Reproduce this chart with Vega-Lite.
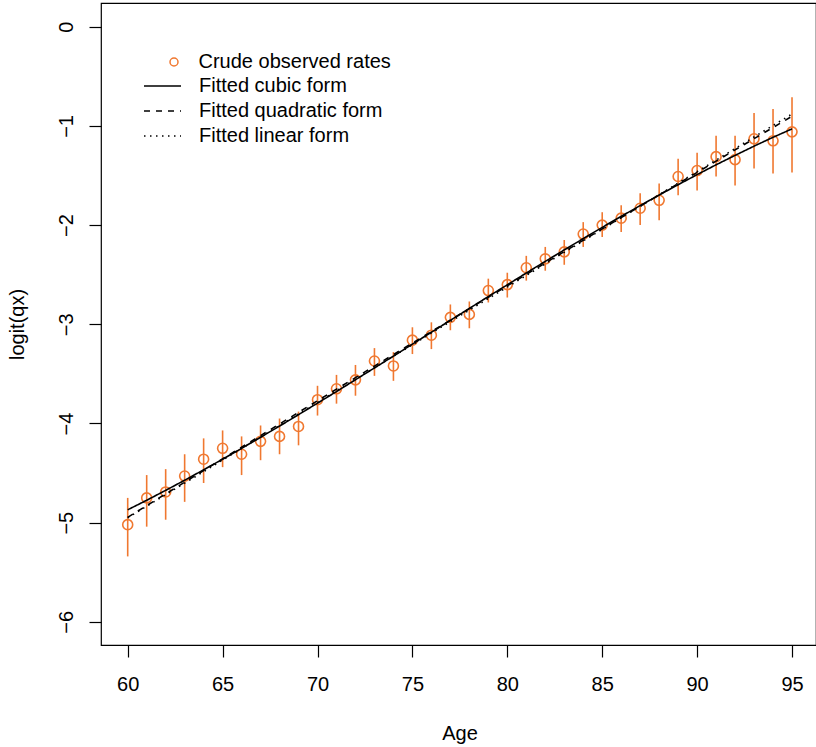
{
  "$schema": "https://vega.github.io/schema/vega-lite/v6.json",
  "width": 715,
  "height": 642,
  "autosize": "none",
  "padding": {"left": 101, "top": 3, "right": 0, "bottom": 102},
  "background": "white",
  "config": {
    "view": {"stroke": "black", "strokeWidth": 1.2},
    "font": "Liberation Sans",
    "axis": {
      "grid": false, "domain": false, "tickColor": "black", "tickSize": 12, "tickWidth": 1.2,
      "labelFont": "Liberation Sans", "labelFontSize": 20, "labelColor": "black",
      "titleFont": "Liberation Sans", "titleFontSize": 20, "titleColor": "black", "titleFontWeight": "normal"
    },
    "legend": {
      "clipHeight": 20, "rowPadding": 5, "labelLimit": 0,
      "labelFont": "Liberation Sans", "labelFontSize": 20, "labelColor": "black",
      "symbolStrokeWidth": 1.5
    }
  },
  "datasets": {
    "obs": [
      {"age": 60, "series": "Crude observed rates", "obs": -5.02, "lo": -5.34, "hi": -4.75},
      {"age": 61, "series": "Crude observed rates", "obs": -4.75, "lo": -5.04, "hi": -4.52},
      {"age": 62, "series": "Crude observed rates", "obs": -4.69, "lo": -4.97, "hi": -4.46},
      {"age": 63, "series": "Crude observed rates", "obs": -4.53, "lo": -4.79, "hi": -4.31},
      {"age": 64, "series": "Crude observed rates", "obs": -4.36, "lo": -4.60, "hi": -4.15},
      {"age": 65, "series": "Crude observed rates", "obs": -4.25, "lo": -4.44, "hi": -4.07},
      {"age": 66, "series": "Crude observed rates", "obs": -4.31, "lo": -4.52, "hi": -4.13},
      {"age": 67, "series": "Crude observed rates", "obs": -4.18, "lo": -4.37, "hi": -4.02},
      {"age": 68, "series": "Crude observed rates", "obs": -4.13, "lo": -4.31, "hi": -3.95},
      {"age": 69, "series": "Crude observed rates", "obs": -4.03, "lo": -4.22, "hi": -3.88},
      {"age": 70, "series": "Crude observed rates", "obs": -3.76, "lo": -3.92, "hi": -3.62},
      {"age": 71, "series": "Crude observed rates", "obs": -3.65, "lo": -3.80, "hi": -3.51},
      {"age": 72, "series": "Crude observed rates", "obs": -3.56, "lo": -3.72, "hi": -3.41},
      {"age": 73, "series": "Crude observed rates", "obs": -3.37, "lo": -3.52, "hi": -3.24},
      {"age": 74, "series": "Crude observed rates", "obs": -3.42, "lo": -3.57, "hi": -3.28},
      {"age": 75, "series": "Crude observed rates", "obs": -3.16, "lo": -3.30, "hi": -3.03},
      {"age": 76, "series": "Crude observed rates", "obs": -3.11, "lo": -3.25, "hi": -2.98},
      {"age": 77, "series": "Crude observed rates", "obs": -2.93, "lo": -3.06, "hi": -2.80},
      {"age": 78, "series": "Crude observed rates", "obs": -2.90, "lo": -3.04, "hi": -2.77},
      {"age": 79, "series": "Crude observed rates", "obs": -2.66, "lo": -2.78, "hi": -2.54},
      {"age": 80, "series": "Crude observed rates", "obs": -2.60, "lo": -2.73, "hi": -2.48},
      {"age": 81, "series": "Crude observed rates", "obs": -2.43, "lo": -2.56, "hi": -2.31},
      {"age": 82, "series": "Crude observed rates", "obs": -2.34, "lo": -2.46, "hi": -2.22},
      {"age": 83, "series": "Crude observed rates", "obs": -2.27, "lo": -2.40, "hi": -2.15},
      {"age": 84, "series": "Crude observed rates", "obs": -2.09, "lo": -2.22, "hi": -1.97},
      {"age": 85, "series": "Crude observed rates", "obs": -2.00, "lo": -2.12, "hi": -1.87},
      {"age": 86, "series": "Crude observed rates", "obs": -1.93, "lo": -2.07, "hi": -1.80},
      {"age": 87, "series": "Crude observed rates", "obs": -1.83, "lo": -2.00, "hi": -1.68},
      {"age": 88, "series": "Crude observed rates", "obs": -1.75, "lo": -1.95, "hi": -1.58},
      {"age": 89, "series": "Crude observed rates", "obs": -1.51, "lo": -1.70, "hi": -1.33},
      {"age": 90, "series": "Crude observed rates", "obs": -1.45, "lo": -1.65, "hi": -1.27},
      {"age": 91, "series": "Crude observed rates", "obs": -1.31, "lo": -1.51, "hi": -1.10},
      {"age": 92, "series": "Crude observed rates", "obs": -1.34, "lo": -1.60, "hi": -1.10},
      {"age": 93, "series": "Crude observed rates", "obs": -1.13, "lo": -1.43, "hi": -0.87},
      {"age": 94, "series": "Crude observed rates", "obs": -1.15, "lo": -1.48, "hi": -0.83},
      {"age": 95, "series": "Crude observed rates", "obs": -1.06, "lo": -1.47, "hi": -0.71}
    ],
    "fit": [
      {"age": 60, "series": "Fitted cubic form", "v": -4.870}, {"age": 61, "series": "Fitted cubic form", "v": -4.774},
      {"age": 62, "series": "Fitted cubic form", "v": -4.674}, {"age": 63, "series": "Fitted cubic form", "v": -4.572},
      {"age": 64, "series": "Fitted cubic form", "v": -4.467}, {"age": 65, "series": "Fitted cubic form", "v": -4.360},
      {"age": 66, "series": "Fitted cubic form", "v": -4.251}, {"age": 67, "series": "Fitted cubic form", "v": -4.139},
      {"age": 68, "series": "Fitted cubic form", "v": -4.026}, {"age": 69, "series": "Fitted cubic form", "v": -3.911},
      {"age": 70, "series": "Fitted cubic form", "v": -3.795}, {"age": 71, "series": "Fitted cubic form", "v": -3.678},
      {"age": 72, "series": "Fitted cubic form", "v": -3.559}, {"age": 73, "series": "Fitted cubic form", "v": -3.440},
      {"age": 74, "series": "Fitted cubic form", "v": -3.321}, {"age": 75, "series": "Fitted cubic form", "v": -3.200},
      {"age": 76, "series": "Fitted cubic form", "v": -3.080}, {"age": 77, "series": "Fitted cubic form", "v": -2.960},
      {"age": 78, "series": "Fitted cubic form", "v": -2.840}, {"age": 79, "series": "Fitted cubic form", "v": -2.720},
      {"age": 80, "series": "Fitted cubic form", "v": -2.602}, {"age": 81, "series": "Fitted cubic form", "v": -2.483},
      {"age": 82, "series": "Fitted cubic form", "v": -2.366}, {"age": 83, "series": "Fitted cubic form", "v": -2.250},
      {"age": 84, "series": "Fitted cubic form", "v": -2.136}, {"age": 85, "series": "Fitted cubic form", "v": -2.023},
      {"age": 86, "series": "Fitted cubic form", "v": -1.912}, {"age": 87, "series": "Fitted cubic form", "v": -1.803},
      {"age": 88, "series": "Fitted cubic form", "v": -1.697}, {"age": 89, "series": "Fitted cubic form", "v": -1.593},
      {"age": 90, "series": "Fitted cubic form", "v": -1.491}, {"age": 91, "series": "Fitted cubic form", "v": -1.392},
      {"age": 92, "series": "Fitted cubic form", "v": -1.297}, {"age": 93, "series": "Fitted cubic form", "v": -1.204},
      {"age": 94, "series": "Fitted cubic form", "v": -1.115}, {"age": 95, "series": "Fitted cubic form", "v": -1.030},
      {"age": 60, "series": "Fitted quadratic form", "v": -4.946}, {"age": 61, "series": "Fitted quadratic form", "v": -4.828},
      {"age": 62, "series": "Fitted quadratic form", "v": -4.710}, {"age": 63, "series": "Fitted quadratic form", "v": -4.592},
      {"age": 64, "series": "Fitted quadratic form", "v": -4.474}, {"age": 65, "series": "Fitted quadratic form", "v": -4.356},
      {"age": 66, "series": "Fitted quadratic form", "v": -4.239}, {"age": 67, "series": "Fitted quadratic form", "v": -4.122},
      {"age": 68, "series": "Fitted quadratic form", "v": -4.005}, {"age": 69, "series": "Fitted quadratic form", "v": -3.888},
      {"age": 70, "series": "Fitted quadratic form", "v": -3.771}, {"age": 71, "series": "Fitted quadratic form", "v": -3.654},
      {"age": 72, "series": "Fitted quadratic form", "v": -3.538}, {"age": 73, "series": "Fitted quadratic form", "v": -3.421},
      {"age": 74, "series": "Fitted quadratic form", "v": -3.305}, {"age": 75, "series": "Fitted quadratic form", "v": -3.189},
      {"age": 76, "series": "Fitted quadratic form", "v": -3.074}, {"age": 77, "series": "Fitted quadratic form", "v": -2.958},
      {"age": 78, "series": "Fitted quadratic form", "v": -2.842}, {"age": 79, "series": "Fitted quadratic form", "v": -2.727},
      {"age": 80, "series": "Fitted quadratic form", "v": -2.612}, {"age": 81, "series": "Fitted quadratic form", "v": -2.497},
      {"age": 82, "series": "Fitted quadratic form", "v": -2.382}, {"age": 83, "series": "Fitted quadratic form", "v": -2.267},
      {"age": 84, "series": "Fitted quadratic form", "v": -2.153}, {"age": 85, "series": "Fitted quadratic form", "v": -2.038},
      {"age": 86, "series": "Fitted quadratic form", "v": -1.924}, {"age": 87, "series": "Fitted quadratic form", "v": -1.810},
      {"age": 88, "series": "Fitted quadratic form", "v": -1.696}, {"age": 89, "series": "Fitted quadratic form", "v": -1.582},
      {"age": 90, "series": "Fitted quadratic form", "v": -1.469}, {"age": 91, "series": "Fitted quadratic form", "v": -1.355},
      {"age": 92, "series": "Fitted quadratic form", "v": -1.242}, {"age": 93, "series": "Fitted quadratic form", "v": -1.129},
      {"age": 94, "series": "Fitted quadratic form", "v": -1.016}, {"age": 95, "series": "Fitted quadratic form", "v": -0.903},
      {"age": 60, "series": "Fitted linear form", "v": -4.950}, {"age": 61, "series": "Fitted linear form", "v": -4.834},
      {"age": 62, "series": "Fitted linear form", "v": -4.717}, {"age": 63, "series": "Fitted linear form", "v": -4.601},
      {"age": 64, "series": "Fitted linear form", "v": -4.485}, {"age": 65, "series": "Fitted linear form", "v": -4.369},
      {"age": 66, "series": "Fitted linear form", "v": -4.252}, {"age": 67, "series": "Fitted linear form", "v": -4.136},
      {"age": 68, "series": "Fitted linear form", "v": -4.020}, {"age": 69, "series": "Fitted linear form", "v": -3.903},
      {"age": 70, "series": "Fitted linear form", "v": -3.787}, {"age": 71, "series": "Fitted linear form", "v": -3.671},
      {"age": 72, "series": "Fitted linear form", "v": -3.554}, {"age": 73, "series": "Fitted linear form", "v": -3.438},
      {"age": 74, "series": "Fitted linear form", "v": -3.322}, {"age": 75, "series": "Fitted linear form", "v": -3.206},
      {"age": 76, "series": "Fitted linear form", "v": -3.089}, {"age": 77, "series": "Fitted linear form", "v": -2.973},
      {"age": 78, "series": "Fitted linear form", "v": -2.857}, {"age": 79, "series": "Fitted linear form", "v": -2.740},
      {"age": 80, "series": "Fitted linear form", "v": -2.624}, {"age": 81, "series": "Fitted linear form", "v": -2.508},
      {"age": 82, "series": "Fitted linear form", "v": -2.391}, {"age": 83, "series": "Fitted linear form", "v": -2.275},
      {"age": 84, "series": "Fitted linear form", "v": -2.159}, {"age": 85, "series": "Fitted linear form", "v": -2.043},
      {"age": 86, "series": "Fitted linear form", "v": -1.926}, {"age": 87, "series": "Fitted linear form", "v": -1.810},
      {"age": 88, "series": "Fitted linear form", "v": -1.694}, {"age": 89, "series": "Fitted linear form", "v": -1.577},
      {"age": 90, "series": "Fitted linear form", "v": -1.461}, {"age": 91, "series": "Fitted linear form", "v": -1.345},
      {"age": 92, "series": "Fitted linear form", "v": -1.228}, {"age": 93, "series": "Fitted linear form", "v": -1.112},
      {"age": 94, "series": "Fitted linear form", "v": -0.996}, {"age": 95, "series": "Fitted linear form", "v": -0.880}
    ]
  },
  "layer": [
    {
      "data": {"name": "obs"},
      "mark": {"type": "rule", "color": "#F07830", "strokeWidth": 1.6},
      "encoding": {
        "x": {"field": "age", "type": "quantitative", "scale": {"domain": [58.593, 96.264], "nice": false, "zero": false},
              "axis": {"values": [60, 65, 70, 75, 80, 85, 90, 95], "title": "Age", "labelPadding": 17, "titleX": 358.5, "titleY": 94, "titleBaseline": "alphabetic"}},
        "y": {"field": "lo", "type": "quantitative", "scale": {"domain": [-6.233, 0.239], "nice": false, "zero": false},
              "axis": {"values": [-6, -5, -4, -3, -2, -1, 0], "format": "d", "title": "logit(qx)", "labelAngle": -90, "labelAlign": "center", "labelBaseline": "alphabetic", "labelPadding": 17, "titleAngle": -90, "titleX": -78, "titleY": 321, "titleAlign": "center", "titleBaseline": "alphabetic"}},
        "y2": {"field": "hi"}
      }
    },
    {
      "data": {"name": "obs"},
      "mark": {"type": "point", "filled": false, "size": 100, "strokeWidth": 1.6, "opacity": 1, "color": "#F07830"},
      "encoding": {
        "x": {"field": "age", "type": "quantitative"},
        "y": {"field": "obs", "type": "quantitative"},
        "shape": {"field": "series", "type": "nominal",
          "scale": {"domain": ["Crude observed rates"], "range": ["circle"]},
          "legend": {"title": null, "orient": "none", "legendX": 63, "legendY": 49, "symbolSize": 64, "symbolOffset": 0, "labelOffset": 14.5, "symbolStrokeColor": "#F07830", "symbolFillColor": "transparent"}
        }
      }
    },
    {
      "data": {"name": "fit"},
      "mark": {"type": "line", "strokeWidth": 1.6, "color": "black"},
      "encoding": {
        "x": {"field": "age", "type": "quantitative"},
        "y": {"field": "v", "type": "quantitative"},
        "strokeDash": {"field": "series", "type": "nominal",
          "scale": {"domain": ["Fitted cubic form", "Fitted quadratic form", "Fitted linear form"], "range": [[1, 0], [6, 6], [1.5, 4.5]]},
          "legend": {"title": null, "orient": "none", "legendX": 42, "legendY": 73, "symbolType": "stroke", "symbolSize": 1369, "labelOffset": 17, "symbolStrokeColor": "black"}
        }
      }
    }
  ]
}
